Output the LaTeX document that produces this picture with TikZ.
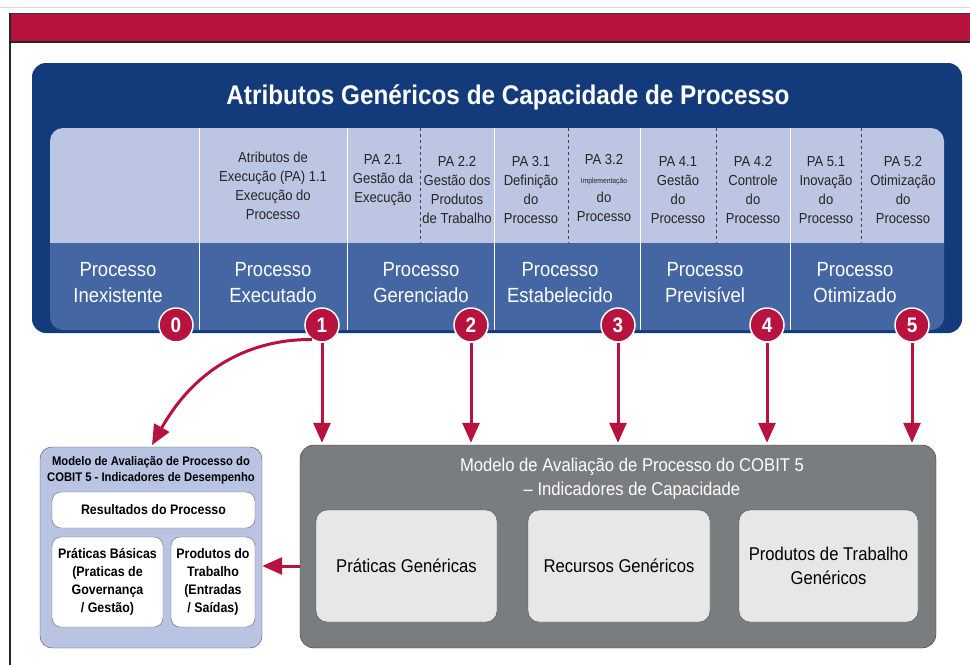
\documentclass[tikz,border=0pt]{standalone}
\usepackage{fontspec}
\setmainfont{Liberation Sans}[FakeStretch=0.9]
\usetikzlibrary{arrows.meta}
\definecolor{cobred}{HTML}{B8133F}
\definecolor{cobnavy}{HTML}{133B7B}
\definecolor{cobpale}{HTML}{BCC5E1}
\definecolor{cobmid}{HTML}{4467A4}
\definecolor{cobgrey}{HTML}{7A7D7F}
\definecolor{cobsilver}{HTML}{E7E7E7}
\definecolor{coblav}{HTML}{B9C3E2}
\tikzset{lvlnum/.style={circle,fill=cobred,draw=white,line width=1.5pt,
        minimum size=34pt,inner sep=0pt,text=white,
        font=\bfseries\fontsize{21}{21}\selectfont},
    redarrow/.style={draw=cobred,line width=3pt,shorten >=2pt,
        -{Triangle[width=17pt,length=20pt]}},
    pacell/.style={align=center,text=black!85,font=\fontsize{14.5}{19}\selectfont},
    lvlname/.style={align=center,text=white,font=\fontsize{20.5}{26}\selectfont},
    genbox/.style={rounded corners=11pt,fill=cobsilver,draw=black!70,
        minimum height=112pt,align=center,text=black,
        font=\fontsize{18.5}{24}\selectfont},
    whitebox/.style={rounded corners=9pt,fill=white,draw=black!60,
        align=center,text=black,font=\bfseries\fontsize{13.8}{18}\selectfont}
}
\begin{document}
\begin{tikzpicture}[x=1pt,y=-1pt]
    \useasboundingbox (0,0) rectangle (970,665);
    \draw[black!15,line width=1pt] (0,7) -- (970,7);
    \fill[cobred] (10,13) rectangle (970,42);
    \draw[black!80,line width=0.8pt] (10,13) -- (970,13);
    \draw[black!85,line width=2pt] (10,42) -- (970,42);
    \draw[black!85,line width=1.2pt] (10,13) -- (10,665);
    \fill[cobnavy,rounded corners=14pt] (32,63) rectangle (962,333);
    \fill[cobpale] (50,243) [rounded corners=13pt] -- (50,128) -- (944,128)
        [sharp corners] -- (944,243) -- cycle;
    \fill[cobmid] (50,243) [rounded corners=13pt] -- (50,330) -- (944,330)
        [sharp corners] -- (944,243) -- cycle;
    \foreach \x in {199,347,494,640,790}
        \draw[white,line width=1pt] (\x,128) -- (\x,330);
    \foreach \x in {420,568,716,861}
        \draw[black!75,dashed,line width=0.8pt] (\x,128) -- (\x,243);
    \node[text=white,font=\bfseries\fontsize{27}{30}\selectfont] (title) at (508,97)
        {Atributos Genéricos de Capacidade de Processo};
    \node[pacell] (pa11) at (273,186) {Atributos de\\Execução (PA) 1.1\\Execução do\\Processo};
    \node[pacell] (pa21) at (383,180) {PA 2.1\\Gestão da\\Execução};
    \node[pacell] (pa22) at (457,190) {PA 2.2\\Gestão dos\\Produtos\\de Trabalho};
    \node[pacell] (pa31) at (531,190) {PA 3.1\\Definição\\do\\Processo};
    \node[pacell] (pa32) at (604,188) {PA 3.2\\{\fontsize{7.5}{9}\selectfont Implementação}\\do\\Processo};
    \node[pacell] (pa41) at (678,190) {PA 4.1\\Gestão\\do\\Processo};
    \node[pacell] (pa42) at (753,190) {PA 4.2\\Controle\\do\\Processo};
    \node[pacell] (pa51) at (826,190) {PA 5.1\\Inovação\\do\\Processo};
    \node[pacell] (pa52) at (903,190) {PA 5.2\\Otimização\\do\\Processo};
    \node[lvlname] (lv0) at (118,283) {Processo\\Inexistente};
    \node[lvlname] (lv1) at (273,283) {Processo\\Executado};
    \node[lvlname] (lv2) at (421,283) {Processo\\Gerenciado};
    \node[lvlname] (lv3) at (560,283) {Processo\\Estabelecido};
    \node[lvlname] (lv4) at (705,283) {Processo\\Previsível};
    \node[lvlname] (lv5) at (855,283) {Processo\\Otimizado};
    \foreach \n/\x in {0/176,1/322,2/471,3/618,4/767,5/912}
        \node[lvlnum] (c\n) at (\x,325) {\n};
    \node[rounded corners=14pt,fill=cobgrey,draw=black!80,minimum width=636pt,
        minimum height=203pt] (cap) at (618,546.5) {};
    \node[align=center,text=white,font=\fontsize{18.5}{24}\selectfont] (captitle) at (632,479)
        {Modelo de Avaliação de Processo do COBIT 5\\– Indicadores de Capacidade};
    \node[genbox,minimum width=181pt] (pgen) at (406.5,566) {Práticas Genéricas};
    \node[genbox,minimum width=182pt] (rgen) at (619,566) {Recursos Genéricos};
    \node[genbox,minimum width=179pt] (tgen) at (828.5,566) {Produtos de Trabalho\\Genéricos};
    \node[rounded corners=12pt,fill=coblav,draw=black!70,minimum width=222pt,
        minimum height=201pt] (lbox) at (151,547.5) {};
    \node[align=center,text=black,font=\bfseries\fontsize{12.5}{16}\selectfont] (ltitle) at (151,470)
        {Modelo de Avaliação de Processo do\\COBIT 5 - Indicadores de Desempenho};
    \node[whitebox,minimum width=203pt,minimum height=36pt] (res) at (153.5,510)
        {Resultados do Processo};
    \node[whitebox,minimum width=111pt,minimum height=90pt] (pbas) at (107.5,582)
        {Práticas Básicas\\(Praticas de\\Governança\\/ Gestão)};
    \node[whitebox,minimum width=84pt,minimum height=90pt] (pprod) at (213,582)
        {Produtos do\\Trabalho\\(Entradas\\/ Saídas)};
    \foreach \n in {1,...,5}
        \draw[redarrow] (c\n) -- (c\n |- cap.north);
    \draw[redarrow] (c1.235) .. controls (260,339) and (200,360) .. (lbox.north);
    \draw[redarrow,shorten >=0pt] (cap.west |- pgen) -- (lbox.east |- pgen);
\end{tikzpicture}
\end{document}
